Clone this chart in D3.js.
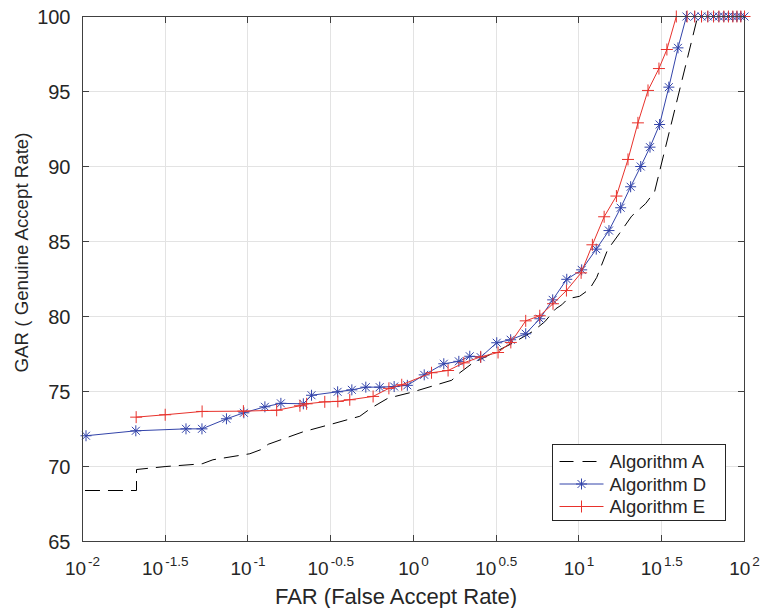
<!DOCTYPE html>
<html>
<head>
<meta charset="utf-8">
<script src="https://cdn.jsdelivr.net/npm/d3@7/dist/d3.min.js"></script>
<style>
  body { margin: 0; background: #fff; }
  text { font-family: "Liberation Sans", Arial, Helvetica, sans-serif; fill: #262626; }
</style>
</head>
<body>
<script>
//data (FAR in %, GAR in %)
var farA = [0.01035, 0.0212, 0.0212, 0.0319, 0.0528, 0.0614, 0.1026, 0.1213, 0.1324, 0.2148, 0.326, 0.474, 0.557, 0.700, 0.977,
    1.702, 1.905, 2.249, 3.319, 3.981, 5.248, 6.209, 7.228, 7.870, 8.551, 10.09, 11.59, 12.79, 14.89, 17.62, 20.80, 25.29, 28.64, 52.12, 100];
var garA = [68.4, 68.4, 69.8, 70.0, 70.18, 70.45, 70.85, 71.15, 71.48, 72.31, 72.85, 73.35, 73.91, 74.55, 74.95,
    75.75, 76.25, 76.85, 77.79, 78.23, 79.0, 79.65, 80.51, 80.78, 81.18, 81.35, 81.83, 82.6, 84.45, 85.56, 86.69, 87.53, 88.33, 100, 100];

var farD = [0.0105, 0.0210, 0.0422, 0.0527, 0.0741, 0.0944, 0.1265, 0.158, 0.216, 0.242, 0.348, 0.424, 0.515, 0.625, 0.764, 0.918,
    1.161, 1.524, 1.879, 2.188, 2.547, 3.184, 3.864, 4.764, 5.794, 6.934, 8.433, 10.38, 12.71, 15.17, 17.86, 20.51, 23.60, 26.85,
    30.69, 34.91, 39.63, 44.57, 50, 55, 60, 65, 70, 75, 80, 85, 90, 95, 100];
var garD = [72.05, 72.38, 72.51, 72.51, 73.18, 73.58, 73.98, 74.21, 74.18, 74.75, 74.98, 75.11, 75.29, 75.29, 75.33, 75.41,
    76.11, 76.85, 77.01, 77.35, 77.29, 78.25, 78.45, 78.85, 79.85, 81.11, 82.48, 83.11, 84.49, 85.73, 87.25, 88.65, 90.0, 91.29,
    92.8, 95.29, 97.91, 100, 100, 100, 100, 100, 100, 100, 100, 100, 100, 100, 100];

var farE = [0.0211, 0.0316, 0.0528, 0.0938, 0.149, 0.206, 0.226, 0.291, 0.349, 0.412, 0.570, 0.710, 0.849,
    1.285, 1.618, 2.014, 2.547, 3.243, 3.873, 4.764, 5.794, 6.966, 8.395, 10.30, 12.05, 14.19, 16.83, 19.77, 22.70, 26.12,
    30.41, 33.96, 38.73, 45, 50, 55, 60, 65, 70, 75, 80, 85, 90, 95, 100];
var garE = [73.29, 73.45, 73.67, 73.69, 73.75, 74.05, 74.18, 74.31, 74.34, 74.45, 74.67, 75.21, 75.45,
    76.25, 76.4, 76.91, 77.31, 77.6, 78.27, 79.71, 80.05, 80.85, 81.73, 82.91, 84.78, 86.65, 88.03, 90.47, 92.91, 95.07,
    96.53, 97.8, 100, 100, 100, 100, 100, 100, 100, 100, 100, 100, 100, 100, 100];

//tick labels
var xTickExps = ["-2", "-1.5", "-1", "-0.5", "0", "0.5", "1", "1.5", "2"];
var yTicks = [65, 70, 75, 80, 85, 90, 95, 100];
var seriesNames = ["Algorithm A", "Algorithm D", "Algorithm E"];

//set up the svg dimensions and margins
var margin = {top: 16.5, right: 20.5, bottom: 66.5, left: 82.5},
    width = 765 - margin.left - margin.right,
    height = 608 - margin.top - margin.bottom;

var svg = d3.select("body").append("svg")
    .attr("width", 765)
    .attr("height", 608)
    .append("g")
    .attr("transform", "translate(" + margin.left + "," + margin.top + ")");

var xScale = d3.scaleLog().domain([0.01, 100]).range([0, width]);
var yScale = d3.scaleLinear().domain([65, 100]).range([height, 0]);

var xTickVals = xTickExps.map(function(e) { return Math.pow(10, +e); });

//grid
svg.append("g").selectAll("line.gx")
    .data(xTickVals)
    .enter().append("line")
    .attr("x1", function(d) { return Math.round(xScale(d)); })
    .attr("x2", function(d) { return Math.round(xScale(d)); })
    .attr("y1", 0).attr("y2", height)
    .attr("stroke", "#e3e3e3");
svg.append("g").selectAll("line.gy")
    .data(yTicks)
    .enter().append("line")
    .attr("x1", 0).attr("x2", width)
    .attr("y1", function(d) { return yScale(d); })
    .attr("y2", function(d) { return yScale(d); })
    .attr("stroke", "#e3e3e3");

//lines
var line = d3.line()
    .x(function(d) { return xScale(d[0]); })
    .y(function(d) { return yScale(d[1]); });

var dataA = d3.zip(farA, garA),
    dataD = d3.zip(farD, garD),
    dataE = d3.zip(farE, garE);

var blue = "#3344aa", red = "#e8322c";

svg.append("path")
    .datum(dataA)
    .attr("d", line)
    .attr("fill", "none")
    .attr("stroke", "#000")
    .attr("stroke-width", 1)
    .attr("stroke-dasharray", "15,8");

function asterisk(sel, color) {
    var r = 5.5, q = r * 0.72;
    sel.append("path")
        .attr("d", "M" + (-r) + ",0L" + r + ",0M0," + (-r) + "L0," + r +
            "M" + (-q) + "," + (-q) + "L" + q + "," + q + "M" + (-q) + "," + q + "L" + q + "," + (-q))
        .attr("stroke", color)
        .attr("fill", "none")
        .attr("stroke-width", 1);
}

function plus(sel, color) {
    var r = 6;
    sel.append("path")
        .attr("d", "M" + (-r) + ",0L" + r + ",0M0," + (-r) + "L0," + r)
        .attr("stroke", color)
        .attr("fill", "none")
        .attr("stroke-width", 1);
}

svg.append("path")
    .datum(dataD)
    .attr("d", line)
    .attr("fill", "none")
    .attr("stroke", blue)
    .attr("stroke-width", 1);
svg.append("g").selectAll("g")
    .data(dataD)
    .enter().append("g")
    .attr("transform", function(d) { return "translate(" + xScale(d[0]) + "," + yScale(d[1]) + ")"; })
    .call(asterisk, blue);

svg.append("path")
    .datum(dataE)
    .attr("d", line)
    .attr("fill", "none")
    .attr("stroke", red)
    .attr("stroke-width", 1);
svg.append("g").selectAll("g")
    .data(dataE)
    .enter().append("g")
    .attr("transform", function(d) { return "translate(" + xScale(d[0]) + "," + yScale(d[1]) + ")"; })
    .call(plus, red);

//axes box with ticks inside (matlab style)
var axisColor = "#404040", tickLen = 6.5;
svg.append("rect")
    .attr("x", 0).attr("y", 0)
    .attr("width", width).attr("height", height)
    .attr("fill", "none")
    .attr("stroke", axisColor);

xTickVals.forEach(function(v) {
    var x = Math.round(xScale(v));
    svg.append("line").attr("x1", x).attr("x2", x).attr("y1", height).attr("y2", height - tickLen).attr("stroke", axisColor);
    svg.append("line").attr("x1", x).attr("x2", x).attr("y1", 0).attr("y2", tickLen).attr("stroke", axisColor);
});
yTicks.forEach(function(v) {
    var y = yScale(v);
    svg.append("line").attr("x1", 0).attr("x2", tickLen).attr("y1", y).attr("y2", y).attr("stroke", axisColor);
    svg.append("line").attr("x1", width).attr("x2", width - tickLen).attr("y1", y).attr("y2", y).attr("stroke", axisColor);
});

//x tick labels 10^e
var xl = svg.append("g").selectAll("text")
    .data(xTickExps)
    .enter().append("text")
    .attr("x", function(d) { return xScale(Math.pow(10, +d)); })
    .attr("y", height + 33)
    .attr("text-anchor", "middle")
    .style("font-size", "19px");
xl.append("tspan").text("10");
xl.append("tspan")
    .attr("dy", -9)
    .attr("dx", 2)
    .style("font-size", "13.5px")
    .text(function(d) { return d; });

//y tick labels
svg.append("g").selectAll("text")
    .data(yTicks)
    .enter().append("text")
    .attr("x", -12)
    .attr("y", function(d) { return yScale(d); })
    .attr("dy", "0.36em")
    .attr("text-anchor", "end")
    .style("font-size", "20px")
    .text(function(d) { return d; });

//axis titles (the originals sit a bit off the axis centre)
svg.append("text")
    .attr("x", 396 - margin.left)
    .attr("y", height + 62)
    .attr("text-anchor", "middle")
    .style("font-size", "22px")
    .text("FAR (False Accept Rate)");

svg.append("text")
    .attr("transform", "translate(" + (28 - margin.left) + "," + (252.5 - margin.top) + ") rotate(-90)")
    .attr("text-anchor", "middle")
    .style("font-size", "18.7px")
    .text("GAR ( Genuine Accept Rate)");

//legend
var legend = svg.append("g")
    .attr("transform", "translate(" + (552.5 - margin.left) + "," + (444.5 - margin.top) + ")");
legend.append("rect")
    .attr("width", 173).attr("height", 76)
    .attr("fill", "#fff")
    .attr("stroke", "#262626");

seriesNames.forEach(function(name, i) {
    var y = 17 + i * 22.5;
    var l = legend.append("line")
        .attr("x1", 7).attr("x2", 51)
        .attr("y1", y).attr("y2", y)
        .attr("stroke-width", 1);
    if (i == 0) {
        l.attr("stroke", "#000").attr("stroke-dasharray", "14,9");
    } else {
        l.attr("stroke", i == 1 ? blue : red);
        var m = legend.append("g").attr("transform", "translate(29," + y + ")");
        if (i == 1) asterisk(m, blue);
        else plus(m, red);
    }
    legend.append("text")
        .attr("x", 57)
        .attr("y", y)
        .attr("dy", "0.36em")
        .style("font-size", "18.5px")
        .text(name);
});
</script>
</body>
</html>
